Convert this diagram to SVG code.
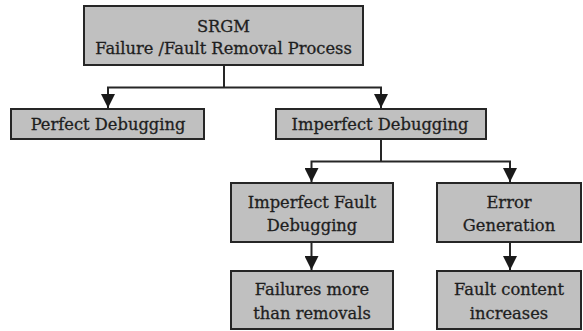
<svg xmlns="http://www.w3.org/2000/svg" width="583" height="331" viewBox="0 0 583 331">
  <style>
    .box { fill: #c0c0c0; stroke: #262626; stroke-width: 2; }
    .lbl { font-family: "DejaVu Serif", "Liberation Serif", serif; font-size: 16.3px; fill: #1e1e1e; stroke: #1e1e1e; stroke-width: 0.3; text-anchor: middle; }
    .conn { fill: none; stroke: #262626; stroke-width: 2; }
  </style>
  <defs>
    <marker id="arrow" viewBox="0 0 14 14" refX="14" refY="7" markerWidth="14" markerHeight="14" markerUnits="userSpaceOnUse" orient="auto">
      <path d="M0,0 L14,7 L0,14 z" fill="#1a1a1a"/>
    </marker>
  </defs>
  <rect width="583" height="331" fill="#ffffff"/>

  <g id="connectors">
    <path class="conn" d="M224,65 V87.5"/>
    <path class="conn" d="M224,87.5 H108 V108" marker-end="url(#arrow)"/>
    <path class="conn" d="M224,87.5 H381 V108" marker-end="url(#arrow)"/>
    <path class="conn" d="M381,139 V161.5"/>
    <path class="conn" d="M381,161.5 H311.5 V182" marker-end="url(#arrow)"/>
    <path class="conn" d="M381,161.5 H510 V182" marker-end="url(#arrow)"/>
    <path class="conn" d="M311.5,242 V270" marker-end="url(#arrow)"/>
    <path class="conn" d="M510,242 V270" marker-end="url(#arrow)"/>
  </g>

  <g id="srgm">
    <rect class="box" x="84" y="6" width="279" height="59"/>
    <text class="lbl" x="223.5" y="31.7">SRGM</text>
    <text class="lbl" x="223.5" y="54.3">Failure /Fault Removal Process</text>
  </g>

  <g id="perfect-debugging">
    <rect class="box" x="11" y="109" width="193" height="30"/>
    <text class="lbl" x="108" y="130">Perfect Debugging</text>
  </g>

  <g id="imperfect-debugging">
    <rect class="box" x="276" y="109" width="210" height="30"/>
    <text class="lbl" x="380" y="130">Imperfect Debugging</text>
  </g>

  <g id="imperfect-fault-debugging">
    <rect class="box" x="231" y="183" width="162" height="59"/>
    <text class="lbl" x="312" y="208">Imperfect Fault</text>
    <text class="lbl" x="312" y="231">Debugging</text>
  </g>

  <g id="error-generation">
    <rect class="box" x="437" y="183" width="144" height="59"/>
    <text class="lbl" x="509" y="207.5">Error</text>
    <text class="lbl" x="509" y="231">Generation</text>
  </g>

  <g id="failures-more">
    <rect class="box" x="231" y="271" width="162" height="58"/>
    <text class="lbl" x="312" y="295">Failures more</text>
    <text class="lbl" x="312" y="319">than removals</text>
  </g>

  <g id="fault-content">
    <rect class="box" x="437" y="271" width="144" height="58"/>
    <text class="lbl" x="509" y="295">Fault content</text>
    <text class="lbl" x="509" y="319">increases</text>
  </g>
</svg>
